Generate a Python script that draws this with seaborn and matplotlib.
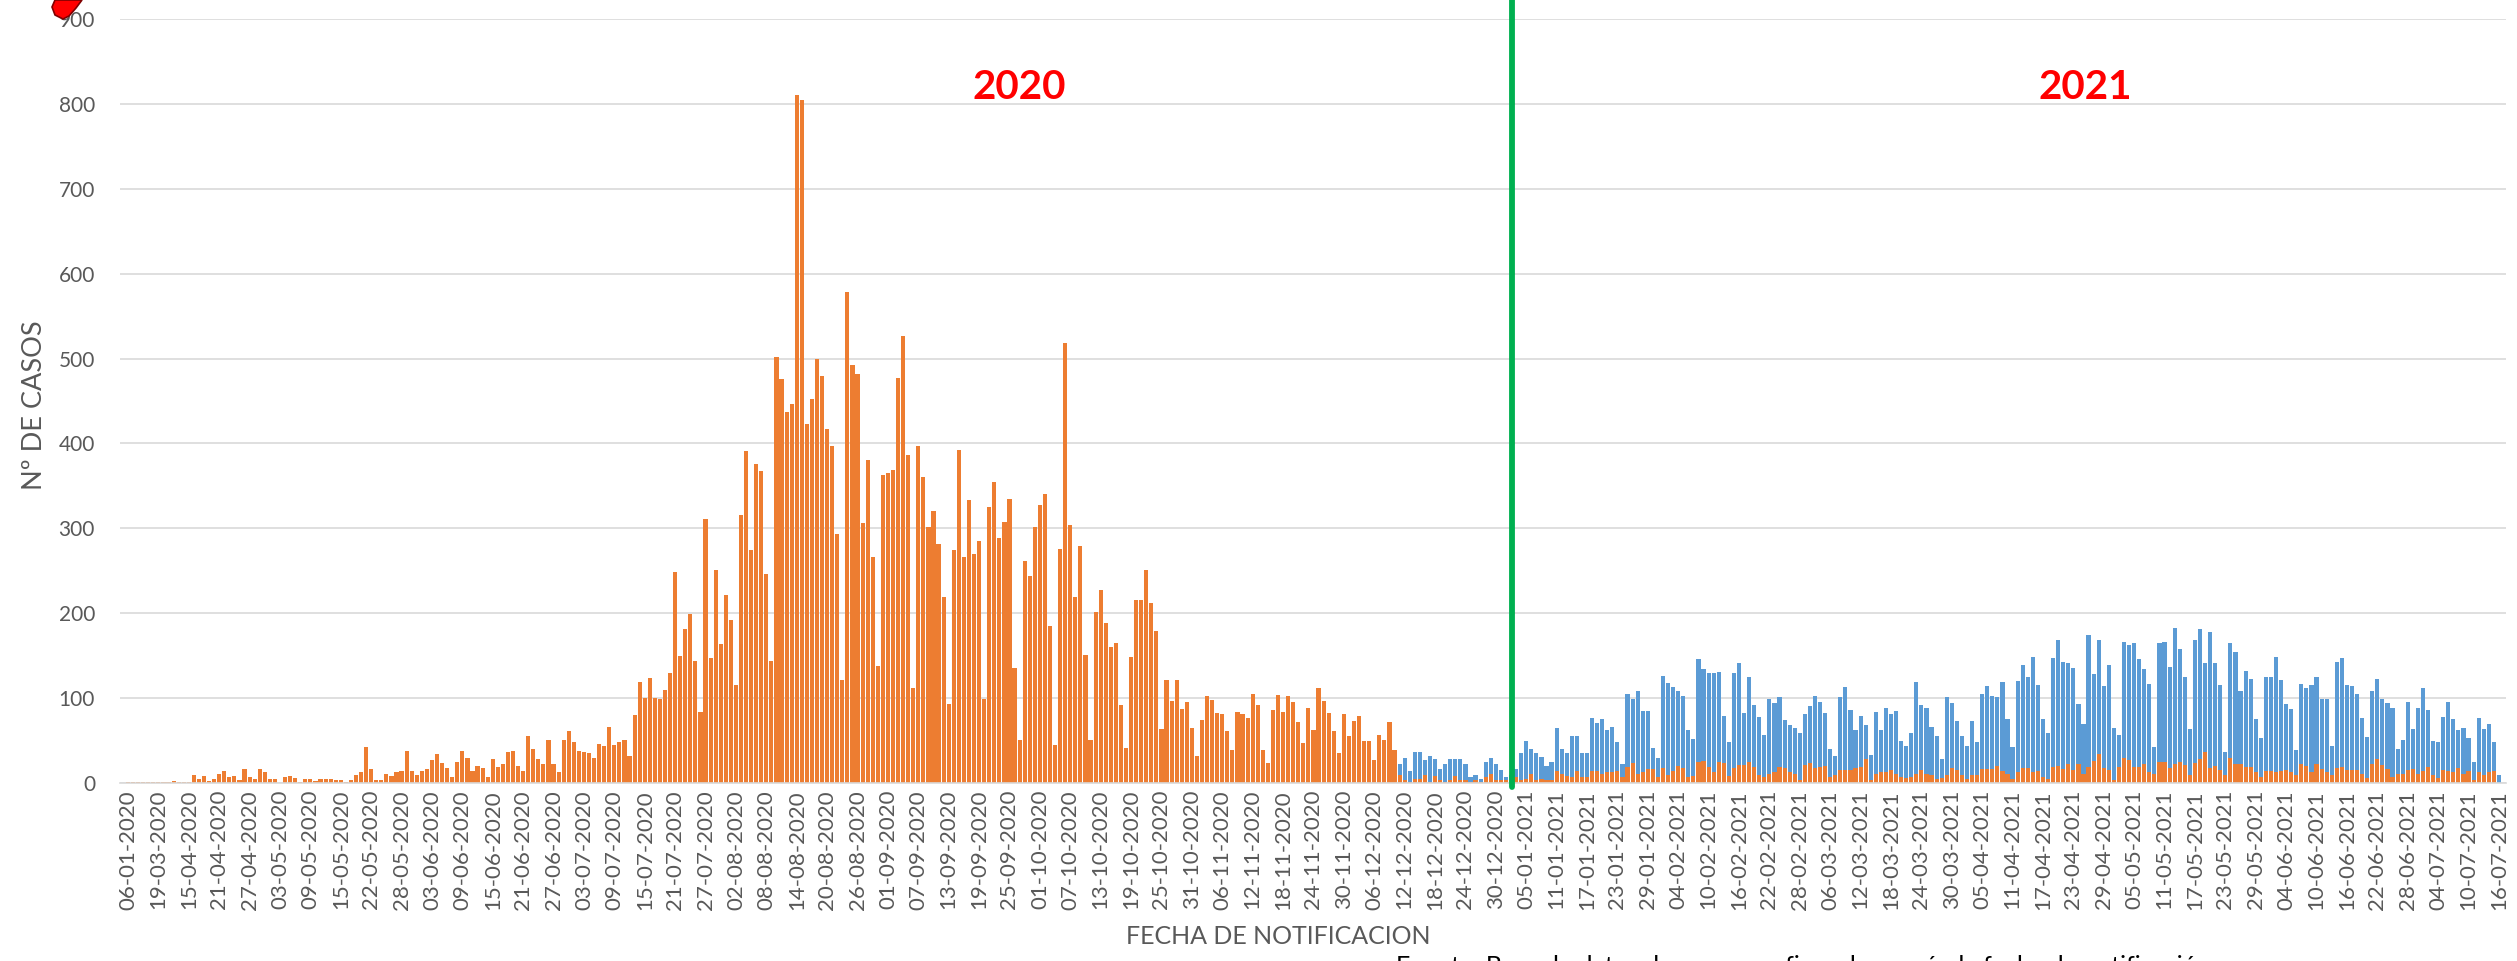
import numpy as np
import pandas as pd
import matplotlib
matplotlib.use("Agg")
import matplotlib.pyplot as plt
from matplotlib.patches import Polygon
import seaborn as sns

# ---------------- data ----------------
tick_labels = ["06-01-2020","19-03-2020","15-04-2020","21-04-2020","27-04-2020","03-05-2020","09-05-2020",
"15-05-2020","22-05-2020","28-05-2020","03-06-2020","09-06-2020","15-06-2020","21-06-2020","27-06-2020",
"03-07-2020","09-07-2020","15-07-2020","21-07-2020","27-07-2020","02-08-2020","08-08-2020","14-08-2020",
"20-08-2020","26-08-2020","01-09-2020","07-09-2020","13-09-2020","19-09-2020","25-09-2020","01-10-2020",
"07-10-2020","13-10-2020","19-10-2020","25-10-2020","31-10-2020","06-11-2020","12-11-2020","18-11-2020",
"24-11-2020","30-11-2020","06-12-2020","12-12-2020","18-12-2020","24-12-2020","30-12-2020","05-01-2021",
"11-01-2021","17-01-2021","23-01-2021","29-01-2021","04-02-2021","10-02-2021","16-02-2021","22-02-2021",
"28-02-2021","06-03-2021","12-03-2021","18-03-2021","24-03-2021","30-03-2021","05-04-2021","11-04-2021",
"17-04-2021","23-04-2021","29-04-2021","05-05-2021","11-05-2021","17-05-2021","23-05-2021","29-05-2021",
"04-06-2021","10-06-2021","16-06-2021","22-06-2021","28-06-2021","04-07-2021","10-07-2021","16-07-2021"]

naranja = ([1,1,1,1,1,1,1,1,1,2,1,1,1] +
 [9,5,8,2,5,11,14,7,8,3,16,7,5,16,13,5,5] +
 [0,7,8,6,1,5,5,2,5,5,5,4,3,1,3,10,13] +
 [42,16,4,4,11,8,13,14,38,14,10,14,16,27,34,24,18] +
 [7,25,38,29,14,20,18,7,28,19,22,37,38,20,14,55,40] +
 [28,22,51,22,13,51,61,48,38,36,35] +
 [29,46,44,66,45,48,51,32,80,119,100,124,100,99,109,130,249] +
 [150,181,199,144,84,311,147,251,164,221,192,116,316,391,274,376,368] +
 [246,144,502,476,437,446,810,804,423,452,500,479,417,397,293,121,578,492,482] +
 [306,381,266,138,363,365,369,477,527,386,112,397,360,302,320,281,219] +
 [93,275,392,266,333,270,285,99,325,355,289,307,335,136,51,262,244] +
 [301,327,340,185,45,276,518,304,219,279,151,51,202,227,189,160,165,92,41,148] +
 [216,216,251,212,179,64,121,97,121,87,95,65,32,74,103,98,83] +
 [81,61,39,84,81,77,105,92,39,24,86,104,84,103,95,72,47] +
 [88,62,112,97,83,61,35,81,55,73,79,50,50,27,57,51,72,39,10] +
 [3,1,5,5,9,1,8,3,1,3,8,3,3,1,3,1,7,11] +
 [4,3,3,3,7,3,5,11,3,5,4,3,14,11,8,7,14,7,7,14] +
 [14,11,13,13,14,7,19,24,11,13,16,16,7,18,9,14,20,18,7,8] +
 [25,26,19,13,25,23,8,18,21,21,25,19,9,7,11,13,19,18,13] +
 [11,4,21,24,18,19,20,7,9,15,15,15,18,19,28,4,11,13,13,15] +
 [11,7,6,7,11,15,11,9,5,6,9,18,15,9,5,9,9,16,16,16] +
 [20,14,11,5,13,18,18,13,14,7,5,19,20,16,22,15,22,11,19,26] +
 [34,18,15,4,19,30,27,19,19,22,13,11,25,25,18,22,25,21,9,23] +
 [28,36,18,20,15,9,29,22,22,19,19,13,7,14,14,13,14,15,13,9] +
 [22,20,13,22,16,13,9,18,19,15,15,15,11,6,22,28,21,16,7,11] +
 [11,15,17,11,14,19,9,6,15,14,13,18,11,14,4,13,9,13,14,0])

azul = ([0] * 251 +
 [22,29,14,36,37,27,32,28,17,22,28,28,28,22,7,9,5,25,29,22] +
 [15,7,10,16,35,50,40,35,31,20,25,65,40,35,55,55,35,35,77,71] +
 [75,62,66,48,22,105,99,108,85,85,41,29,126,118,113,108,102,62,52,146] +
 [134,129,130,131,79,48,129,141,82,125,92,78,56,99,94,101,74,68,65,59] +
 [81,91,103,95,83,40,32,101,113,86,62,79,68,33,84,62,88,81,85,50] +
 [44,59,119,92,88,66,55,28,101,94,73,55,44,73,48,105,114,103,101,119] +
 [75,42,120,139,125,148,115,75,59,147,168,143,141,135,93,70,174,128,169,114] +
 [139,65,56,166,163,165,146,134,117,42,165,166,137,183,158,125,64,169,181,141] +
 [178,141,115,37,165,154,108,132,123,75,53,125,125,148,121,93,87,39,117,112] +
 [115,125,99,99,44,143,147,115,114,105,77,54,108,123,99,94,88,40,51,96] +
 [64,88,112,86,50,48,78,95,75,62,65,53,25,76,64,69,48,9])

n = len(naranja)
df = pd.DataFrame({"pos": np.arange(n), "naranja": naranja, "azul": azul[:n]})

ORANGE = "#ED7D31"
BLUE = "#5B9BD5"
GREEN = "#00B050"
GRAY = "#595959"

# ---------------- figure ----------------
sns.set_style("white")
plt.rcParams["font.family"] = ["Lato", "DejaVu Sans"]

W, H = 2517, 961
fig = plt.figure(figsize=(W / 100, H / 100), dpi=100)
ax = fig.add_axes([120 / W, 178 / H, (2506 - 120) / W, 764 / H])

sns.barplot(data=df, x="pos", y="azul", color=BLUE, width=0.82, errorbar=None,
            ax=ax, saturation=1, linewidth=0)
sns.barplot(data=df, x="pos", y="naranja", color=ORANGE, width=0.82, errorbar=None,
            ax=ax, saturation=1, linewidth=0)

ax.set_xlim(-1.58, 469.4)
ax.set_ylim(0, 900)
ax.set_yticks(range(0, 901, 100))
ax.set_yticklabels([str(v) for v in range(0, 901, 100)], fontsize=15, color=GRAY)
ax.set_xticks(range(0, n, 6))
ax.set_xticklabels(tick_labels, rotation=90, fontsize=16, color=GRAY)
ax.tick_params(axis="both", length=0)
ax.tick_params(axis="y", pad=18)
ax.tick_params(axis="x", pad=5)
ax.set_xlabel("")
ax.set_ylabel("")
ax.yaxis.grid(True, color="#D9D9D9", linewidth=1.2)
ax.xaxis.grid(False)
ax.set_axisbelow(True)
for s in ["top", "right", "left"]:
    ax.spines[s].set_visible(False)
ax.spines["bottom"].set_color("#D9D9D9")
ax.spines["bottom"].set_linewidth(1.2)

# green separator line between years
ax.plot([273.2, 273.2], [-5, 925], color=GREEN, linewidth=4.2, clip_on=False, zorder=5)

# year labels
ax.text(176, 819, "2020", color="#FF0000", fontsize=29, fontweight="bold", ha="center", va="center")
ax.text(386.3, 819, "2021", color="#FF0000", fontsize=29, fontweight="bold", ha="center", va="center")

# axis titles
fig.text(35 / W, 1 - 405 / H, "Nº DE CASOS", rotation=90, ha="center", va="center",
         fontsize=19.5, color=GRAY)
fig.text(1278 / W, 1 - 936 / H, "FECHA DE NOTIFICACION", ha="center", va="center",
         fontsize=18, color=GRAY)

# note cut off by the bottom edge (only the tops of its letters show, as in the source)
fig.text(1396 / W, 1 - 974 / H,
         "Fuente: Base de datos de casos confirmados según la fecha de notificación",
         ha="left", va="baseline", fontsize=18, color="black")

# red marker shape at top-left (partially visible)
pts = [(55, 0), (82, 0), (76, 8), (69, 16), (63, 19), (55, 15), (52, 7)]
poly = Polygon([(x / W, 1 - y / H) for x, y in pts], closed=True, transform=fig.transFigure,
               facecolor="#FF0000", edgecolor="#7F0000", linewidth=1.2, zorder=10)
fig.patches.append(poly)

fig.savefig("out.png", dpi=100)
